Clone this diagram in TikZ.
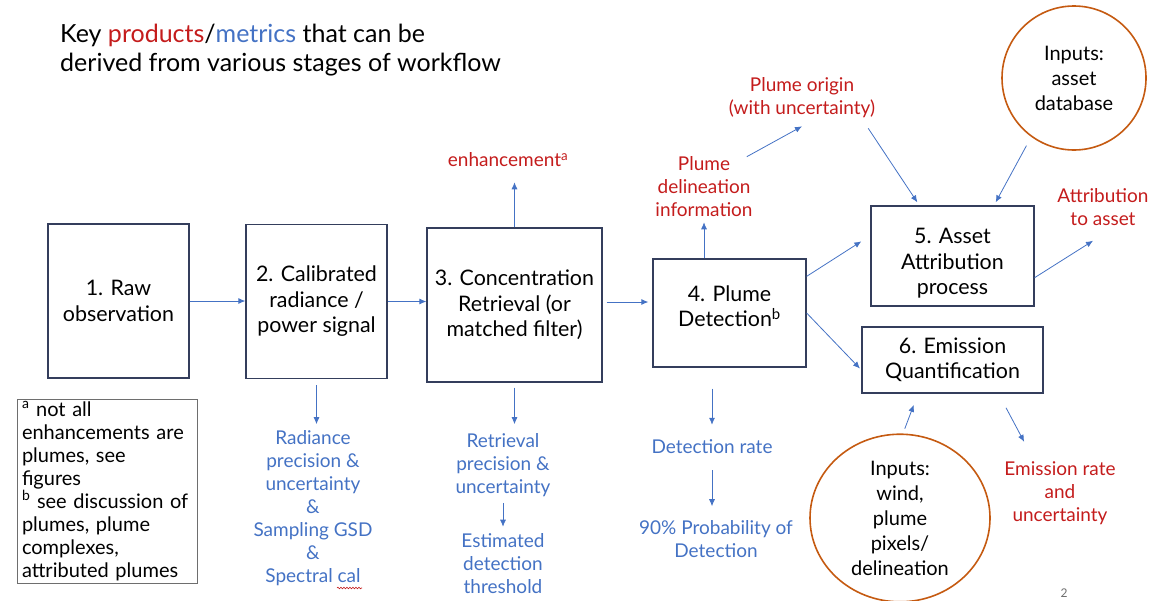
\documentclass[tikz,border=0pt]{standalone}
\usepackage{fontspec}
\setmainfont{Lato}
\usetikzlibrary{arrows.meta,shapes.geometric,decorations.pathmorphing}
\definecolor{prodred}{RGB}{196,28,28}
\definecolor{metblue}{RGB}{68,114,196}
\definecolor{inring}{RGB}{197,90,17}
\definecolor{boxline}{RGB}{52,62,92}
\definecolor{notegray}{RGB}{110,110,110}
\tikzset{%
  >={Latex[width=6pt,length=7pt]},
  % Specifications for style of nodes:
          base/.style = {rectangle, draw=boxline, line width=1.3pt,
                         align=center, inner sep=2pt,
                         font=\fontsize{21.4}{25.5}\selectfont},
  inputs/.style = {base, draw=inring, line width=1.6pt, font=\fontsize{20}{25}\selectfont},
  product/.style = {text=prodred, align=center, font=\fontsize{19}{23}\selectfont},
  metric/.style = {text=metblue, align=center, font=\fontsize{19}{23}\selectfont},
  footnote/.style = {draw=notegray, line width=0.9pt, align=left, text width=170pt,
                     font=\fontsize{20}{23}\selectfont},
  flow/.style = {->, draw=metblue, line width=0.8pt},
}
\begin{document}
\begin{tikzpicture}[x=1pt, y=-1pt, every node/.style={inner sep=0pt}]
  \useasboundingbox (0,0) rectangle (1151,600);

  \node (title) [anchor=west, align=left, font=\fontsize{25}{29}\selectfont] at (60,50)
    {Key \textcolor{prodred}{products}/\textcolor{metblue}{metrics} that can be\\derived from various stages of workflow};

  % Specification of nodes (position, etc.)
  \node (raw)    [base, minimum width=141pt, minimum height=154pt] at (118.5,301) {1. Raw\\observation};
  \node (cal)    [base, minimum width=141pt, minimum height=154pt] at (316.5,301.5) {2. Calibrated\\radiance /\\power signal};
  \node (conc)   [base, minimum width=175pt, minimum height=154pt] at (514.5,305) {3. Concentration\\Retrieval (or\\matched filter)};
  \node (det)    [base, minimum width=153pt, minimum height=108pt] at (729.5,313) {4. Plume\\Detection\textsuperscript{b}\rule[-14pt]{0pt}{0pt}};
  \node (asset)  [base, minimum width=163pt, minimum height=100pt] at (952.5,256) {\rule{0pt}{30pt}5. Asset\\Attribution\\process};
  \node (quant)  [base, minimum width=181pt, minimum height=66pt]  at (952.5,360) {6. Emission\\Quantification};
  \node (dbin)   [inputs, circle, minimum size=144pt] at (1074,78) {Inputs:\\asset\\database};
  \node (windin) [inputs, ellipse, minimum width=180pt, minimum height=162pt] at (900,518) {Inputs:\\wind,\\plume\\pixels/\\delineation};

  % products
  \node (enh)    [product] at (508,160) {enhancement\textsuperscript{a}};
  \node (delin)  [product] at (704,187) {Plume\\delineation\\information};
  \node (origin) [product] at (802,98)  {Plume origin\\(with uncertainty)};
  \node (attrib) [product] at (1103,207) {Attribution\\to asset};
  \node (emis)   [product] at (1060,493) {Emission rate\\and\\uncertainty};

  % metrics
  \node (radm)    [metric] at (313,508) {Radiance\\precision \&\\uncertainty\\\&\\Sampling GSD\\\&\\Spectral cal};
  \node (retm)    [metric] at (503,465) {Retrieval\\precision \&\\uncertainty};
  \node (thresh)  [metric, below of=retm, node distance=99pt] {Estimated\\detection\\threshold};
  \node (detrate) [metric] at (712,447) {Detection rate};
  \node (pod)     [metric, below of=detrate, node distance=92pt, xshift=4pt] {90\% Probability of\\Detection};

  \node (note) [footnote, minimum width=180pt, minimum height=184pt] at (107,491)
    {\textsuperscript{a} not all\\enhancements are\\plumes, see\\figures\\\textsuperscript{b} see discussion of\\plumes, plume\\complexes,\\attributed plumes};
  \node (page) [text=notegray, font=\fontsize{12}{14}\selectfont] at (1064,593) {2};

  \draw[prodred, line width=0.6pt, decorate, decoration={snake, amplitude=0.8pt, segment length=3pt}]
    (337,588) -- (362,588);

  % Specification of lines between nodes specified above
  \draw[flow] (raw.east) -- (raw.east -| cal.west);
  \draw[flow] (cal.east) -- (cal.east -| conc.west);
  \draw[flow, shorten <=4pt, shorten >=4pt] ([yshift=3pt]conc.east) -- ([yshift=3pt]conc.east -| det.west);
  \draw[flow, shorten >=15pt] (conc.north) -- (conc.north |- enh.south);
  \draw[flow, shorten <=6pt, shorten >=6pt] (cal.south) -- (cal.south |- radm.north);
  \draw[flow, shorten <=5pt, shorten >=9pt] (conc.south) -- (conc.south |- retm.north);
  \draw[flow, shorten <=6pt, shorten >=7pt] (retm) -- (thresh);
  \draw[flow, shorten <=21pt, shorten >=15pt] (det.south -| detrate) -- (detrate);
  \draw[flow, shorten <=16pt, shorten >=14pt] (detrate) -- (detrate |- pod.north);
  \draw[flow, shorten >=5pt] (det.north -| delin) -- (delin);
  \draw[flow] ([xshift=-6pt]delin.north east) -- ([yshift=-8pt]origin.south);
  \draw[flow] ([xshift=-7pt, yshift=-10pt]origin.south east) -- ([xshift=47pt, yshift=3pt]asset.north west);
  \draw[flow, shorten <=10pt] (dbin.234) -- ([xshift=-39pt, yshift=3pt]asset.north east);
  \draw[flow] ([yshift=-18pt]det.north east) -- ([xshift=-9pt, yshift=-36pt]asset.north west);
  \draw[flow] ([yshift=29pt]asset.south east) -- ([xshift=-10pt, yshift=-15pt]attrib.south);
  \draw[flow, shorten >=2pt] (det.east) -- ([yshift=-10pt]quant.west);
  \draw[flow, shorten <=5pt, shorten >=12pt] ([xshift=3pt]windin.north) -- ([xshift=-34.5pt]quant.south);
  \draw[flow, shorten <=16pt, shorten >=22pt] ([xshift=46pt]quant.south) -- ([xshift=-25.5pt]emis.north);
\end{tikzpicture}
\end{document}
